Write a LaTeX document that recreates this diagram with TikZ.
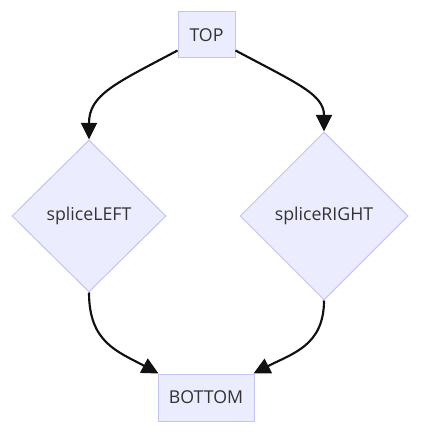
\documentclass[tikz,border=0pt]{standalone}
\usepackage{fontspec}
\setmainfont{Open Sans}
\usetikzlibrary{shapes.geometric,arrows.meta,calc}
\definecolor{nodefill}{HTML}{ECECFF}
\definecolor{nodeline}{HTML}{C3C3F5}
\definecolor{txt}{HTML}{333333}
\definecolor{edge}{HTML}{111111}
\begin{document}
\begin{tikzpicture}[x=0.75pt,y=-0.75pt,
  box/.style={draw=nodeline,fill=nodefill,line width=0.75pt,text=txt,font=\fontsize{13.3}{15}\selectfont,inner sep=0pt},
  dia/.style={diamond,draw=nodeline,fill=nodefill,line width=0.75pt,text=txt,font=\fontsize{13.3}{15}\selectfont,inner sep=0pt},
  link/.style={draw=edge,line width=1.6pt,-{Triangle[length=12.5pt,width=12pt]}}]
\useasboundingbox (0,0) rectangle (420,434);
\node[box,minimum width=42.75pt,minimum height=34.5pt] (top) at (206.5,35) {TOP};
\node[dia,minimum width=115.5pt,minimum height=114pt] (left) at (89,216) {spliceLEFT};
\node[dia,minimum width=126pt,minimum height=126pt] (right) at (324,216) {spliceRIGHT};
\node[box,minimum width=72pt,minimum height=35.25pt] (bottom) at (206,397.5) {BOTTOM};
\draw[link] ([yshift=6pt]top.south west) .. controls ++(-62,33) and ($(left.north)+(0,-45)$) .. (left.north);
\draw[link] ([yshift=6pt]top.south east) .. controls ++(62,33) and ($(right.north)+(0,-37)$) .. (right.north);
\draw[link] (left.south) .. controls ++(0,50) and ($(bottom.north west)+(-40,-22)$) .. ([xshift=0.75pt]bottom.north west);
\draw[link] (right.south) .. controls ++(0,45) and ($(bottom.north east)+(38,-20)$) .. ([xshift=-0.75pt]bottom.north east);
\end{tikzpicture}
\end{document}
